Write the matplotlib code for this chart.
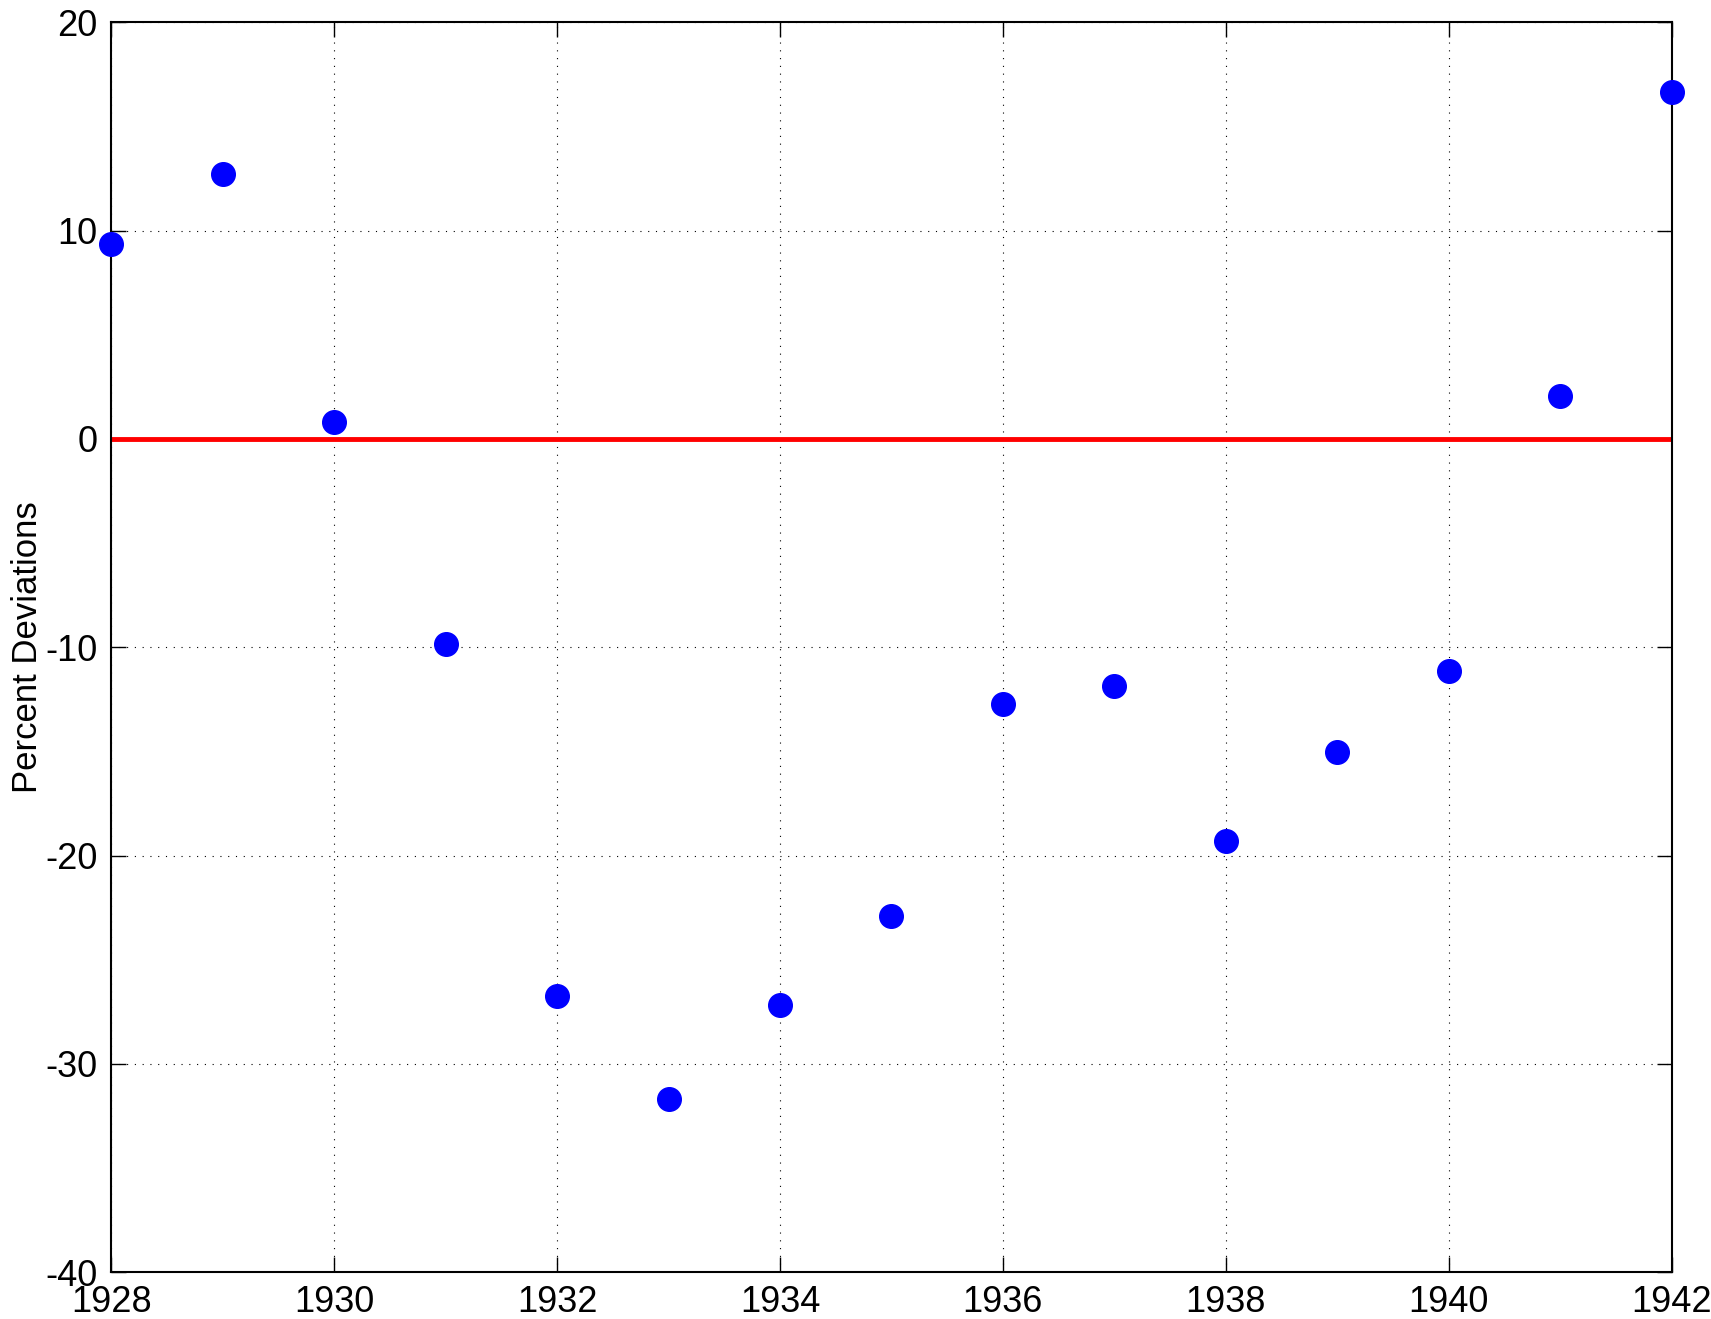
import matplotlib.pyplot as plt

plt.rcParams['font.family'] = ['Liberation Sans', 'DejaVu Sans']
plt.rcParams['axes.unicode_minus'] = False

years = [1928, 1929, 1930, 1931, 1932, 1933, 1934, 1935, 1936, 1937, 1938, 1939, 1940, 1941, 1942]
deviations = [9.38, 12.73, 0.81, -9.86, -26.76, -31.67, -27.18, -22.89, -12.74, -11.85,
              -19.28, -15.04, -11.12, 2.06, 16.65]
x_ticks = [1928, 1930, 1932, 1934, 1936, 1938, 1940, 1942]
y_ticks = [-40, -30, -20, -10, 0, 10, 20]

fig = plt.figure(figsize=(17.11, 13.19), dpi=100)
ax = fig.add_axes([0.065, 0.0356, 0.912, 0.9474])

ax.axhline(0, color='red', lw=3.5, zorder=2)
ax.plot(years, deviations, 'o', color='blue', markersize=17, zorder=3, clip_on=False)

ax.set_xlim(1928, 1942)
ax.set_ylim(-40, 20)
ax.set_xticks(x_ticks)
ax.set_yticks(y_ticks)
ax.grid(True, color='black', lw=0.8, linestyle=(0, (1, 6)))
ax.tick_params(direction='in', length=11, width=1, labelsize=26, top=True, right=True)
ax.tick_params(axis='x', pad=9)
ax.tick_params(axis='y', pad=10)
for s in ax.spines.values():
    s.set_linewidth(1.5)

ax.set_ylabel('Percent Deviations', fontsize=25)
ax.yaxis.set_label_coords(-0.043, 0.5)

fig.savefig('out.png', dpi=100)
